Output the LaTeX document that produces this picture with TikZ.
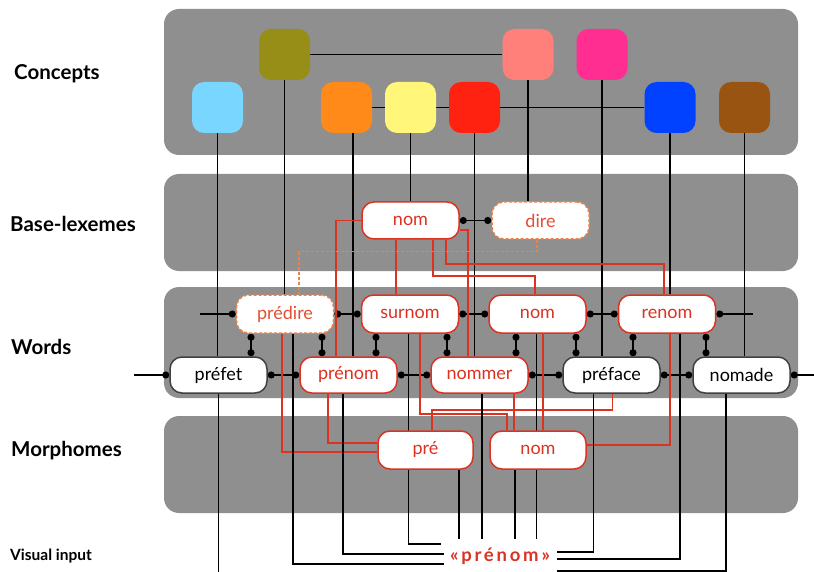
\documentclass[tikz,border=0pt]{standalone}
\usepackage{fontspec}
\setmainfont{Lato}
\usetikzlibrary{arrows.meta,calc}
\definecolor{panel}{RGB}{143,143,143}
\definecolor{lred}{RGB}{219,50,34}
\definecolor{lorange}{RGB}{238,130,70}
\definecolor{dtext}{RGB}{228,78,50}
\definecolor{cblue}{RGB}{120,214,255}
\definecolor{colive}{RGB}{150,142,22}
\definecolor{corange}{RGB}{255,138,26}
\definecolor{cyellow}{RGB}{255,246,122}
\definecolor{cred}{RGB}{255,34,16}
\definecolor{csalmon}{RGB}{255,128,122}
\definecolor{cpink}{RGB}{255,46,144}
\definecolor{cbluedk}{RGB}{0,66,255}
\definecolor{cbrown}{RGB}{152,84,16}
\pgfdeclarelayer{back}
\pgfdeclarelayer{mid}
\pgfsetlayers{back,mid,main}
\begin{document}
\begin{tikzpicture}[x=1pt,y=-1pt,
  panelbox/.style={fill=panel, rounded corners=15pt},
  concept/.style={rounded corners=12pt, minimum width=51pt, minimum height=51pt, inner sep=0pt},
  lex/.style={draw=lred, fill=white, text=lred, line width=1.5pt, rounded corners=12pt,
    minimum width=97pt, minimum height=37pt, inner sep=0pt, font=\fontsize{18}{18}\selectfont},
  plainw/.style={lex, draw=black!75, text=black},
  dlex/.style={lex, draw=lorange, dash pattern=on 3pt off 2pt, text=dtext},
  conn/.style={line width=1.8pt, draw=black},
  rl/.style={line width=1.7pt, draw=lred},
  ol/.style={line width=1.3pt, draw=lorange, dash pattern=on 3pt off 2pt},
  dots/.style={conn, {Circle[length=7pt]}-{Circle[length=7pt]}},
  dote/.style={conn, -{Circle[length=7pt]}},
  dotb/.style={conn, {Circle[length=7pt]}-},
  lab/.style={anchor=west, inner sep=0pt, font=\fontsize{20.5}{20.5}\selectfont\bfseries}
]
\useasboundingbox (0,0) rectangle (814,572);

% panels
\begin{pgfonlayer}{back}
\fill[panelbox] (164,9) rectangle (798,155);
\fill[panelbox] (164,174) rectangle (798,271);
\fill[panelbox] (164,287) rectangle (798,398);
\fill[panelbox] (164,416) rectangle (798,513);
\end{pgfonlayer}

% labels
\node[lab] (lc) at (14,74) {Concepts};
\node[lab] (lb) at (10,224) {Base-lexemes};
\node[lab] (lw) at (11,347) {Words};
\node[lab] (lm) at (11,451) {Morphomes};
\node[lab, font=\fontsize{15.5}{15.5}\selectfont\bfseries] (lv) at (10,556) {Visual input};

% concepts
\node[concept, fill=cblue] (c1) at (217.5,107.5) {};
\node[concept, fill=colive] (c2) at (284.5,54.5) {};
\node[concept, fill=corange] (c3) at (346.5,107.5) {};
\node[concept, fill=cyellow] (c4) at (410.5,107.5) {};
\node[concept, fill=cred] (c5) at (474.5,107.5) {};
\node[concept, fill=csalmon] (c6) at (528,54.5) {};
\node[concept, fill=cpink] (c7) at (602,54.5) {};
\node[concept, fill=cbluedk] (c8) at (670,107.5) {};
\node[concept, fill=cbrown] (c9) at (744.5,107.5) {};

% base lexemes
\node[lex] (bnm) at (410.5,220.5) {nom};
\node[dlex] (dire) at (540.5,220.5) {dire};

% words
\node[dlex, minimum height=38pt] (pdr) at (285,314) {prédire};
\node[lex, minimum height=38pt] (srn) at (410,314) {surnom};
\node[lex, minimum height=38pt] (nmw) at (537.5,314) {nom};
\node[lex, minimum height=38pt] (rnm) at (667,314) {renom};
\node[plainw, minimum height=36pt] (pft) at (218.5,375) {préfet};
\node[lex, minimum height=36pt] (prn) at (348.5,375) {prénom};
\node[lex, minimum height=36pt] (nmr) at (479.5,375) {nommer};
\node[plainw, minimum height=36pt] (pfc) at (611.5,375) {préface};
\node[plainw, minimum height=36pt] (nmd) at (741.5,375) {nomade};

% morphomes
\node[lex, minimum width=95pt, minimum height=38pt] (pre) at (425.5,450) {pré};
\node[lex, minimum width=96pt, minimum height=38pt] (mnm) at (538,450) {nom};

% visual input
\node[fill=white, minimum width=112pt, minimum height=34pt, inner sep=0pt, text=lred,
  font=\fontsize{18.5}{18.5}\selectfont\bfseries\addfontfeatures{LetterSpace=15}] (vis) at (500,556) {«prénom»};

\coordinate (r1l) at (200,314);
\coordinate (r1r) at (753,314);
\coordinate (r2l) at (134,375);
\coordinate (r2r) at (814,375);
\coordinate (vbot) at (0,572);

\begin{pgfonlayer}{mid}
% concept links
\draw[conn] (c2.east) -- (c6.west);
\draw[conn] (c3.east) -- (c4.west);
\draw[conn] (c4.east) -- (c5.west);
\draw[conn] (c5.east) -- (c8.west);
\draw[conn] (c1.south) -- (c1.south |- pft.north);
\draw[conn] (c2.south) -- (c2.south |- pdr.north);
\draw[conn] ([xshift=6.5pt]c3.south) -- ([xshift=6.5pt]c3.south |- prn.north);
\draw[conn] (c4.south) -- (c4.south |- bnm.north);
\draw[conn] (c5.south) -- (c5.south |- nmr.north);
\draw[conn] (c6.south) -- (c6.south |- dire.north);
\draw[conn] (c7.south) -- (c7.south |- pfc.north);
\draw[conn] (c8.south) -- (c8.south |- rnm.north);
\draw[conn] (c9.south) -- (c9.south |- nmd.north);

% base lexeme link
\draw[dots] (bnm.east) -- (dire.west);

% word rows
\draw[dote] (r1l) -- (pdr.west);
\draw[dots] (pdr.east) -- (srn.west);
\draw[dots] (srn.east) -- (nmw.west);
\draw[dots] (nmw.east) -- (rnm.west);
\draw[dotb] (rnm.east) -- (r1r);
\draw[dote] (r2l) -- (pft.west);
\draw[dots] (pft.east) -- (prn.west);
\draw[dots] (prn.east) -- (nmr.west);
\draw[dots] (nmr.east) -- (pfc.west);
\draw[dots] (pfc.east) -- (nmd.west);
\draw[dotb] (nmd.east) -- (r2r);

% vertical dot links
\draw[dots] ([xshift=-34pt]pdr.south) -- ([xshift=-34pt]pdr.south |- pft.north);
\draw[dots] ([xshift=37pt]pdr.south) -- ([xshift=37pt]pdr.south |- prn.north);
\draw[dots] ([xshift=-34pt]srn.south) -- ([xshift=-34pt]srn.south |- prn.north);
\draw[dots] ([xshift=37pt]srn.south) -- ([xshift=37pt]srn.south |- nmr.north);
\draw[dots] ([xshift=-21.5pt]nmw.south) -- ([xshift=-21.5pt]nmw.south |- nmr.north);
\draw[dots] ([xshift=38.5pt]nmw.south) -- ([xshift=38.5pt]nmw.south |- pfc.north);
\draw[dots] ([xshift=-34pt]rnm.south) -- ([xshift=-34pt]rnm.south |- pfc.north);
\draw[dots] ([xshift=39pt]rnm.south) -- ([xshift=39pt]rnm.south |- nmd.north);

% red: base lexeme to words
\draw[rl] (bnm.west) -| ([xshift=-12.5pt]prn.north);
\draw[rl] ([xshift=-14.5pt]bnm.south) -- ([xshift=-14.5pt]bnm.south |- srn.north);
\draw[rl] ([xshift=22.5pt]bnm.south) -- ++(0,36) -| ([xshift=-2.5pt]nmw.north);
\draw[rl] ([xshift=35.5pt]bnm.south) -- ++(0,24) -| ([xshift=-3pt]rnm.north);
\draw[rl] ([yshift=-9.5pt]bnm.east) -| ([xshift=-11.5pt]nmr.north);
\draw[ol] ([xshift=-3.5pt]dire.south) -- ++(0,12) -| ([xshift=14pt]pdr.north);

% red: words to morphomes
\draw[rl] ([xshift=-3pt]pdr.south) |- ([yshift=-2pt]pre.west);
\draw[rl] ([xshift=-20.5pt]prn.south) |- ([yshift=7pt]pre.west);
\draw[rl] ([xshift=10pt]srn.south) |- ([xshift=-31pt,yshift=16pt]mnm.north) -- ([xshift=-31pt]mnm.north);
\draw[rl] ([xshift=1pt]pfc.south) |- ([xshift=6.5pt,yshift=20pt]pre.north) -- ([xshift=6.5pt]pre.north);
\draw[rl] ([xshift=34.5pt]nmr.south) -- ([xshift=34.5pt]nmr.south |- mnm.north);
\draw[rl] ([xshift=5.5pt]nmw.south) -- ([xshift=5.5pt]nmw.south |- mnm.north);
\draw[rl] ([xshift=3pt]rnm.south) |- ([yshift=5pt]mnm.east);

% black: to visual input
\draw[conn] (pft.south) -- (pft.south |- vbot);
\draw[conn] ([xshift=8pt]pdr.south) |- ([xshift=1pt,yshift=-8pt]vis.west);
\draw[conn] ([xshift=-5.5pt]prn.south) |- ([xshift=1pt,yshift=2pt]vis.west);
\draw[conn] ([xshift=-1.5pt]srn.south) |- ([xshift=-3pt,yshift=12pt]vis.west);
\draw[conn] ([xshift=33.5pt]pre.south) -- ([xshift=33.5pt]pre.south |- vis.north);
\draw[conn] ([xshift=2.5pt]nmr.south) -- ([xshift=2.5pt]nmr.south |- vis.north);
\draw[conn] ([xshift=-23pt]mnm.south) -- ([xshift=-23pt]mnm.south |- vis.north);
\draw[conn] ([xshift=-1pt]nmw.south) -- ([xshift=-1pt]nmw.south |- vis.north);
\draw[conn] ([xshift=-18pt]pfc.south) |- ([xshift=1pt,yshift=4pt]vis.east);
\draw[conn] ([xshift=13pt]rnm.south) |- ([xshift=1pt,yshift=-3pt]vis.east);
\draw[conn] ([xshift=-15.5pt]nmd.south) |- ([xshift=1pt,yshift=-15pt]vis.east);
\end{pgfonlayer}
\end{tikzpicture}
\end{document}
